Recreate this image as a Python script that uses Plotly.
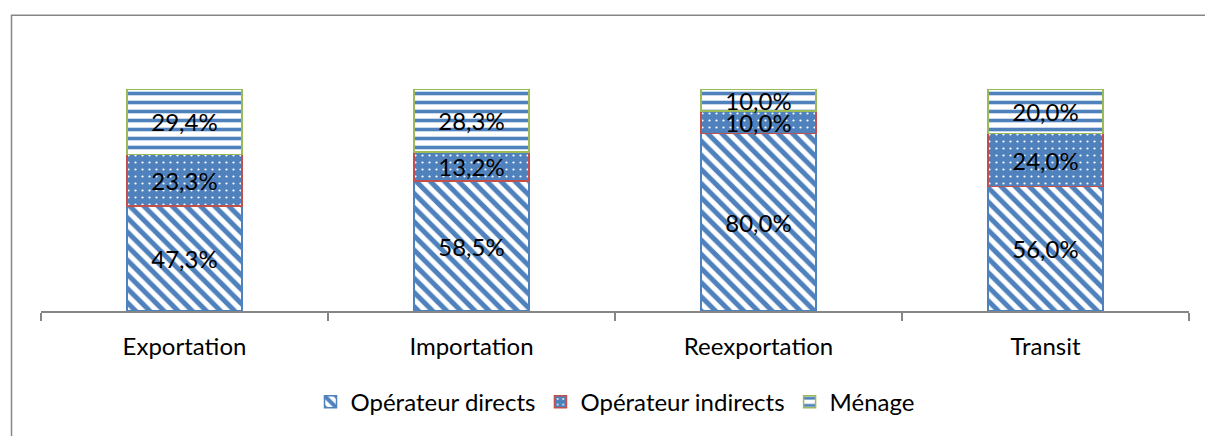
import plotly.graph_objects as go
import numpy as np

categories = ["Exportation", "Importation", "Reexportation", "Transit"]
directs = [47.3, 58.5, 80.0, 56.0]
indirects = [23.3, 13.2, 10.0, 24.0]
menage = [29.4, 28.3, 10.0, 20.0]
series_names = ["Opérateur directs", "Opérateur indirects", "Ménage"]

BLUE = "#4F81BD"
FONT = "Lato"
FS = 24

fig = go.Figure()
fig.add_trace(go.Bar(
    x=categories, y=np.array(directs) / 100, name=series_names[0],
    marker=dict(color=BLUE, line=dict(color=BLUE, width=1.5),
                pattern=dict(shape="\\", fgcolor=BLUE, bgcolor="white", size=10,
                             solidity=0.5, fillmode="replace", fgopacity=1)),
    texttemplate="%{y:.1%}", textposition="inside", insidetextanchor="middle",
    textfont=dict(color="black", size=FS, family=FONT),
))
fig.add_trace(go.Bar(
    x=categories, y=np.array(indirects) / 100, name=series_names[1],
    marker=dict(color=BLUE, line=dict(color="#C0504D", width=1.5),
                pattern=dict(shape=".", fgcolor="white", bgcolor=BLUE, size=7,
                             solidity=0.08, fillmode="replace", fgopacity=1)),
    texttemplate="%{y:.1%}", textposition="inside", insidetextanchor="middle",
    textfont=dict(color="black", size=FS, family=FONT),
))
fig.add_trace(go.Bar(
    x=categories, y=np.array(menage) / 100, name=series_names[2],
    marker=dict(color=BLUE, line=dict(color="#9BBB59", width=1.5),
                pattern=dict(shape="-", fgcolor=BLUE, bgcolor="white", size=9,
                             solidity=0.4, fillmode="replace", fgopacity=1)),
    texttemplate="%{y:.1%}", textposition="inside", insidetextanchor="middle",
    textfont=dict(color="black", size=FS, family=FONT),
))

# plot area in pixels: x 41..1189, y 89..313
L, R, T, B = 41, 1189, 89, 313
def px(x): return (x - L) / (R - L)
def py(y): return (B - y) / (B - T)

fig.update_layout(
    width=1205, height=436,
    barmode="stack", bargap=0.6,
    separators=", ",
    paper_bgcolor="white", plot_bgcolor="white",
    margin=dict(l=L, r=1205 - R, t=T, b=436 - B),
    font=dict(family=FONT, size=FS, color="black"),
    uniformtext=dict(minsize=FS, mode="show"),
    xaxis=dict(showline=True, linecolor="#868686", linewidth=1.5, ticks="outside",
               tickson="boundaries", ticklen=8, tickcolor="#868686", tickwidth=1.5,
               ticklabelstandoff=13,
               tickfont=dict(size=FS, family=FONT), showgrid=False),
    yaxis=dict(range=[0, 1], visible=False, showgrid=False),
    legend=dict(orientation="h", x=px(615), xanchor="center", y=py(405), yanchor="middle",
                font=dict(size=FS, family=FONT), itemwidth=30, traceorder="normal"),
    showlegend=True,
    shapes=[dict(type="rect", xref="paper", yref="paper",
                 x0=px(11.5), x1=px(1215), y0=py(445), y1=py(14.5),
                 line=dict(color="#868686", width=1.5))],
)
fig.write_html("out.html", config={"displayModeBar": False},
               post_script="document.body.style.margin='0';document.body.style.padding='0';")
